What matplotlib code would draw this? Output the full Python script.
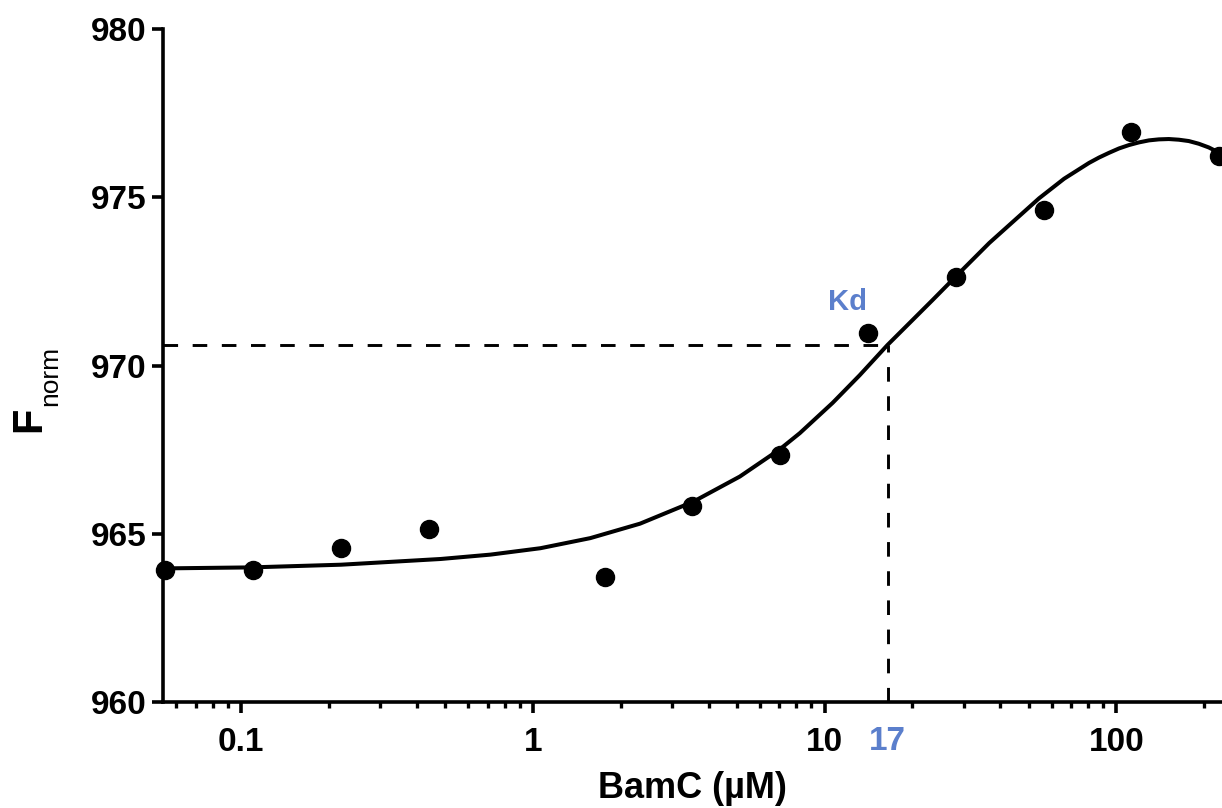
import numpy as np
import matplotlib
matplotlib.use("Agg")
import matplotlib.pyplot as plt
from matplotlib.ticker import FixedLocator, FixedFormatter, LogLocator, NullFormatter
import matplotlib.transforms as mtransforms

# -----------------------------
# Data
# -----------------------------
conc_um = [0.0549, 0.11, 0.22, 0.44, 1.76, 3.52, 7.03, 14.06, 28.1, 56.25, 112.5, 225]
f_norm = [963.92, 963.92, 964.57, 965.14, 963.72, 965.83, 967.34, 970.96, 972.64, 974.63, 976.94, 976.24]

# fitted curve
fit_conc = [0.054, 0.108, 0.22, 0.483, 0.716, 1.061, 1.573, 2.33, 3.54, 5.12, 7.02, 8.22,
            10.65, 13.18, 16.42, 20.0, 23.4, 28.94, 36.65, 54.33, 66.15, 80.54, 87.14,
            94.28, 102.0, 110.3, 119.4, 129.2, 139.7, 151.2, 163.6, 177.0, 191.5, 207.2,
            227.7, 232]
fit_f = [963.97, 964.00, 964.08, 964.25, 964.38, 964.57, 964.87, 965.30, 965.95, 966.70,
         967.51, 967.99, 968.89, 969.71, 970.61, 971.35, 971.94, 972.75, 973.64, 974.97,
         975.55, 976.02, 976.18, 976.32, 976.45, 976.55, 976.63, 976.69, 976.72, 976.73,
         976.71, 976.67, 976.59, 976.48, 976.30, 976.26]

kd_line = 16.42
kd_f = 970.61
kd_label = "17"

xtick_vals = [0.1, 1, 10, 100]
xtick_labels = ["0.1", "1", "10", "100"]
ytick_vals = [960, 965, 970, 975, 980]

blue = "#5b7fcc"

plt.rcParams["font.family"] = ["Liberation Sans", "DejaVu Sans"]
plt.rcParams["font.weight"] = "bold"

fig = plt.figure(figsize=(12.22, 8.08), dpi=100)
ax = fig.add_axes([163 / 1222, 1 - 702 / 808, 1 - 163 / 1222, (702 - 29) / 808])

ax.set_xscale("log")
ax.set_xlim(0.054, 230)
ax.set_ylim(960, 980)

# fit line and points
ax.plot(fit_conc, fit_f, color="black", lw=2.9, zorder=3, clip_on=True,
        solid_joinstyle="round")
ax.plot(conc_um, f_norm, "o", color="black", ms=13, zorder=4, clip_on=False)

# Kd guide lines
ax.plot([0.054, kd_line], [kd_f, kd_f], color="black", lw=2.1, dashes=(5, 5), zorder=2)
ax.plot([kd_line, kd_line], [960, kd_f], color="black", lw=2.1, dashes=(5, 5), zorder=2)
ax.text(12.0, 971.9, "Kd", color=blue, fontsize=21, fontweight="bold", ha="center", va="center")

# axes styling
for s in ["top", "right"]:
    ax.spines[s].set_visible(False)
for s in ["left", "bottom"]:
    ax.spines[s].set_linewidth(2.6)

ax.xaxis.set_major_locator(FixedLocator(xtick_vals))
ax.xaxis.set_major_formatter(FixedFormatter(xtick_labels))
ax.xaxis.set_minor_locator(LogLocator(base=10, subs=np.arange(2, 10)))
ax.xaxis.set_minor_formatter(NullFormatter())
ax.set_yticks(ytick_vals)

ax.tick_params(axis="both", which="major", direction="out", length=8, width=2.6,
               labelsize=24, color="black")
ax.tick_params(axis="x", which="major", pad=10)
ax.tick_params(axis="y", which="major", pad=4)
ax.tick_params(axis="x", which="minor", direction="out", length=4.5, width=2.4)

# blue Kd value on the x axis
trans = mtransforms.blended_transform_factory(ax.transData, ax.transAxes)
offset = mtransforms.ScaledTranslation(0, -24 / 100, fig.dpi_scale_trans)
ax.text(kd_line, 0, kd_label, transform=trans + offset, color=blue, fontsize=24,
        fontweight="bold", ha="center", va="top")

ax.set_xlabel("BamC (µM)", fontsize=26, fontweight="bold", labelpad=9)

# y label: F with subscript "norm"
fig.text(29 / 1222, 1 - 419 / 808, "F", rotation=90, fontsize=30, fontweight="bold",
         ha="center", va="center")
fig.text(50 / 1222, 1 - 376 / 808, "norm", rotation=90, fontsize=19, fontweight="normal",
         ha="center", va="center")

plt.savefig("out.png", dpi=100)
plt.close()
